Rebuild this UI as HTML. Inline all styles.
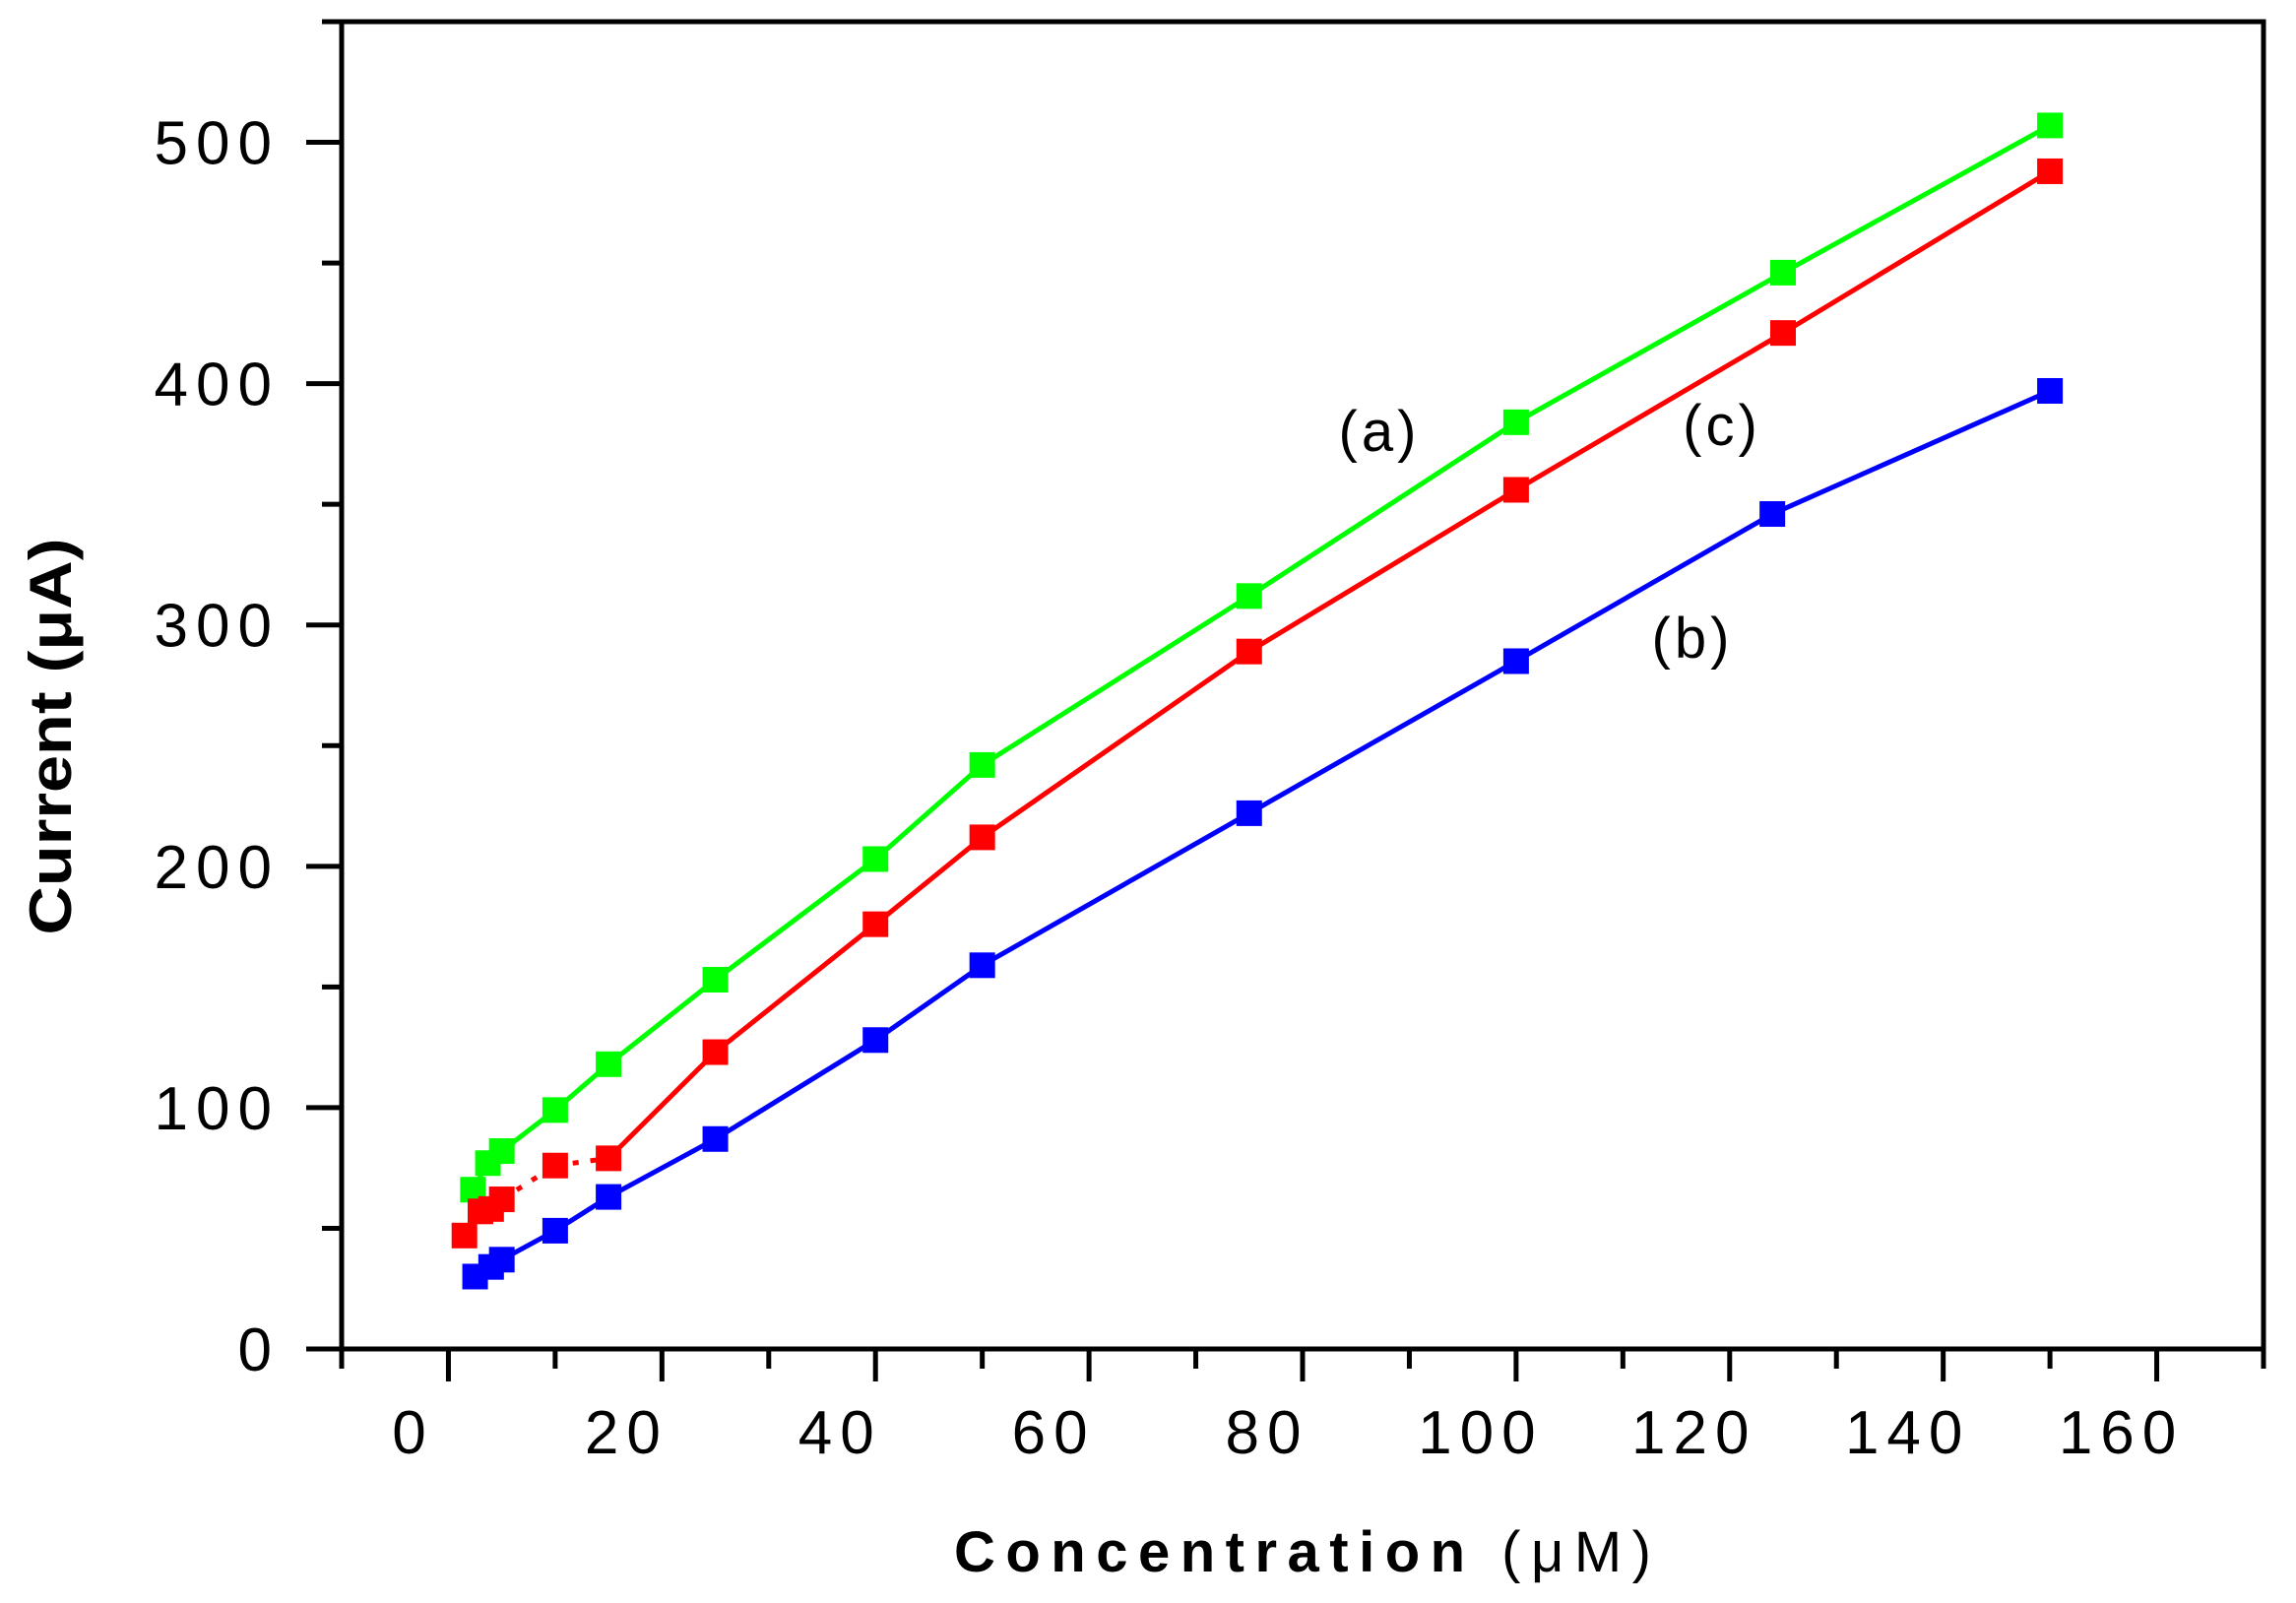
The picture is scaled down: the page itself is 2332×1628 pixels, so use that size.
<!DOCTYPE html>
<html><head><meta charset="utf-8"><style>
html,body{margin:0;padding:0;background:#fff;}
svg{display:block;font-family:"Liberation Sans",sans-serif;}
</style></head><body>
<svg id="chart" width="2332" height="1628" viewBox="0 0 2332 1628" xmlns="http://www.w3.org/2000/svg">
<g id="axes"></g>
<g id="series"></g>
<text x="1401" y="458" font-size="58" text-anchor="middle" letter-spacing="4">(a)</text>
<text x="1749" y="452" font-size="58" text-anchor="middle" letter-spacing="4">(c)</text>
<text x="1719" y="668" font-size="58" text-anchor="middle" letter-spacing="4">(b)</text>
<text x="969" y="1596" font-size="58" font-weight="bold" textLength="708" lengthAdjust="spacing">Concentration <tspan font-weight="normal">(μM)</tspan></text>
<text transform="translate(72,748) rotate(-90)" font-size="60" font-weight="bold" text-anchor="middle" textLength="403" lengthAdjust="spacingAndGlyphs">Current (μA)</text>
</svg>
<script>
const xTicks = [0,20,40,60,80,100,120,140,160];
const yTicks = [0,100,200,300,400,500];
const greenX = [2.3,3.7,5,10,15,25,40,50,75,100,125,150];
const greenY = [66,77,82,99,118,153,203,242,312,384,446,507];
const redX = [1.5,3,4,5,10,15,25,40,50,75,100,125,150];
const redY = [47,57,58,62,76,79,123,176,212,289,356,421,488];
const blueX = [2.5,4,5,10,15,25,40,50,75,100,124,150];
const blueY = [30,34,37,49,63,87,128,159,222,285,346,397];

const NS = 'http://www.w3.org/2000/svg';
const L=347,R=2299,T=22,B=1370;
const xMin=-10,xMax=170,yMin=0,yMax=550;
function sx(v){return L+(v-xMin)/(xMax-xMin)*(R-L);}
function sy(v){return B-(v-yMin)/(yMax-yMin)*(B-T);}
function mk(tag,attrs,parent){const e=document.createElementNS(NS,tag);for(const k in attrs)e.setAttribute(k,attrs[k]);parent.appendChild(e);return e;}
const axes=document.getElementById('axes');
const frame=mk('rect',{x:L,y:T,width:R-L,height:B-T,fill:'none',stroke:'#000','stroke-width':5},axes);


for(let v=xMin; v<=xMax; v+=10){
  const major = v%20===0;
  const t=mk('line',{x1:sx(v),x2:sx(v),y1:B,y2:B+(major?33:20),stroke:'#000','stroke-width':5},axes);
  
  
}
xTicks.forEach(v=>{
  const t=mk('text',{x:sx(v)-36,y:1476,'font-size':62,'text-anchor':'middle','letter-spacing':8},axes);
  t.textContent=v;
  
  
});
for(let v=0; v<=yMax; v+=50){
  const major = v%100===0;
  const t=mk('line',{x1:L-(major?36:20),x2:L,y1:sy(v),y2:sy(v),stroke:'#000','stroke-width':5},axes);
  
  
}
yTicks.forEach(v=>{
  const t=mk('text',{x:284,y:sy(v)+22,'font-size':62,'text-anchor':'end','letter-spacing':8},axes);
  t.textContent=v;
  
  
});
const sg=document.getElementById('series');
function draw(xs,ys,color,name,dotUntil){
  const g=mk('g',{},sg);
  
  
  for(let i=0;i<xs.length-1;i++){
    const dotted = dotUntil!==undefined && xs[i+1]<=dotUntil && xs[i]>=4;
    const l=mk('line',{x1:sx(xs[i]),y1:sy(ys[i]),x2:sx(xs[i+1]),y2:sy(ys[i+1]),stroke:color,'stroke-width':5,'stroke-dasharray':dotted?'6 12':'none'},g);
    
    
  }
  for(let i=0;i<xs.length;i++){
    const r=mk('rect',{x:sx(xs[i])-13,y:sy(ys[i])-13,width:26,height:26,fill:color},g);
    
    
  }
}
draw(greenX,greenY,'#00ff00','series-a');
draw(redX,redY,'#ff0000','series-c',15);
draw(blueX,blueY,'#0000ff','series-b');
</script>
</body></html>
